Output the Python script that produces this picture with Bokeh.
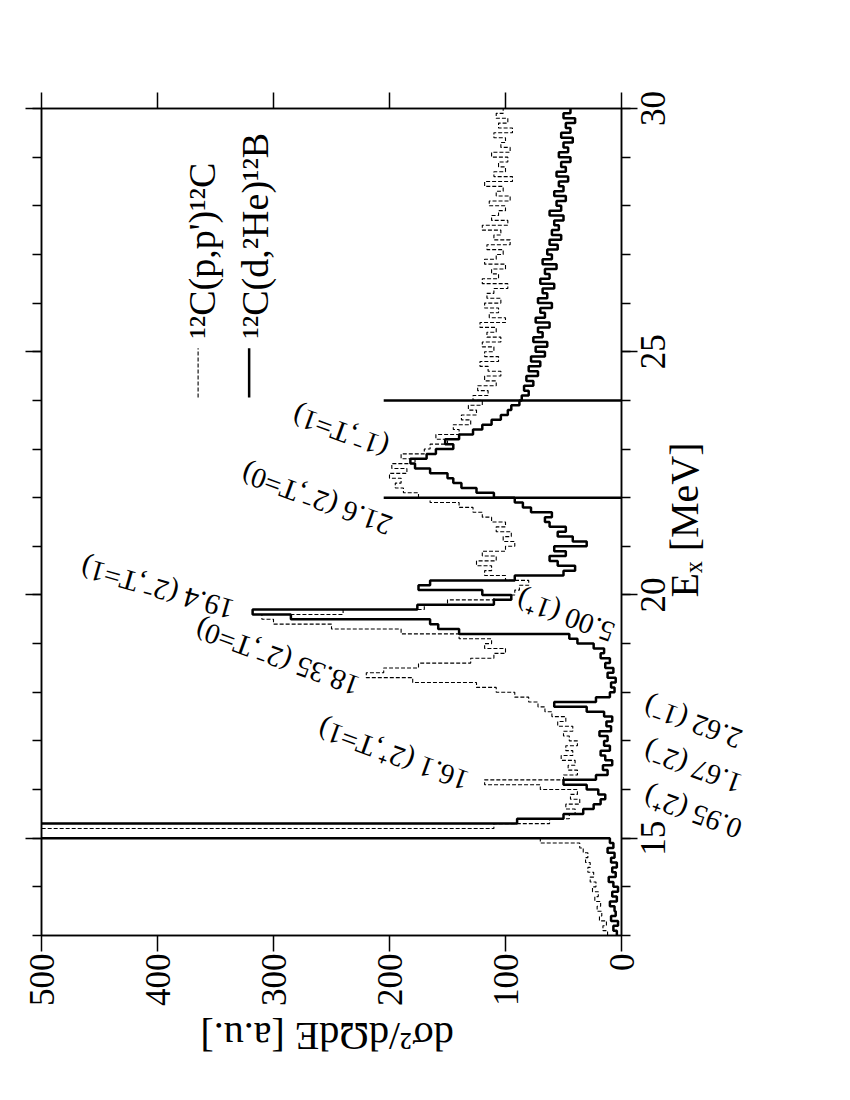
import math
import numpy as np
from bokeh.plotting import figure
from bokeh.models import (Range1d, LinearAxis, FixedTicker, Label,
                          CustomJSTickFormatter)
from bokeh.embed import file_html
from bokeh.resources import INLINE

# ---------------- data ----------------
ex_start = 13.0          # lower edge of first bin [MeV]
bin_width = 0.1          # MeV

# 12C(p,p')12C  (dashed)
pp_val = [
    12, 16, 13, 19, 17, 21, 18, 23, 20, 25,
    22, 27, 24, 29, 27, 31, 29, 33, 36, 70,
    900, 900, 110, 62, 45, 40, 48, 36, 44, 38,
    70, 118, 50, 38, 46, 40, 52, 42, 48, 38,
    45, 50, 42, 55, 48, 60, 66, 72, 80, 92,
    108, 125, 180, 220, 205, 175, 130, 110, 100, 118,
    112, 140, 190, 250, 300, 310, 240, 170, 150, 110,
    92, 88, 80, 100, 118, 112, 125, 108, 120, 100,
    92, 102, 95, 108, 100, 112, 120, 128, 140, 165,
    175, 188, 195, 190, 200, 185, 198, 178, 190, 170,
    165, 150, 160, 140, 145, 130, 138, 125, 132, 120,
    128, 115, 124, 108, 118, 104, 115, 122, 106, 118,
    110, 120, 104, 116, 108, 122, 100, 114, 106, 118,
    104, 116, 110, 98, 120, 106, 112, 100, 118, 108,
    102, 116, 96, 110, 104, 120, 98, 112, 106, 100,
    114, 96, 108, 102, 118, 94, 110, 100, 106, 98,
    112, 96, 104, 100, 110, 94, 106, 98, 108, 102,
]

# 12C(d,2He)12B  (solid)
dhe_val = [
    4, 7, 3, 9, 5, 6, 10, 4, 8, 3,
    7, 11, 5, 8, 4, 9, 6, 12, 7, 10,
    900, 900, 900, 90, 50, 33, 24, 18, 14, 20,
    30, 50, 22, 12, 16, 8, 14, 18, 10, 15,
    12, 19, 9, 13, 8, 15, 30, 58, 22, 10,
    6, 9, 5, 12, 7, 14, 10, 18, 15, 24,
    38, 45, 140, 158, 165, 285, 318, 176, 110, 95,
    120, 175, 165, 92, 50, 40, 55, 62, 48, 58,
    30, 42, 55, 48, 62, 66, 60, 78, 85, 92,
    110, 125, 138, 145, 150, 165, 178, 182, 168, 160,
    145, 152, 140, 128, 120, 112, 104, 98, 95, 88,
    86, 80, 84, 76, 82, 72, 80, 70, 78, 66,
    74, 64, 76, 68, 72, 62, 74, 66, 70, 60,
    72, 64, 68, 58, 70, 62, 66, 56, 68, 60,
    64, 55, 62, 52, 60, 54, 58, 50, 62, 52,
    56, 48, 58, 50, 54, 46, 56, 48, 52, 44,
    54, 46, 50, 42, 52, 44, 48, 40, 50, 44,
]

threshold_ex = [22.0, 24.0]
threshold_top = 205

value_ticks = [0, 100, 200, 300, 400, 500]
ex_major_ticks = [15, 20, 25, 30]
ex_minor_ticks = list(range(13, 31))

x_title = "dσ²/dΩdE [a.u.]"
y_title = "Eₓ [MeV]"
legend_labels = ["¹²C(p,p')¹²C", "¹²C(d,²He)¹²B"]

state_labels = ["16.1 (2⁺,T=1)", "18.35 (2⁻,T=0)", "19.4 (2⁻,T=1)",
                "21.6 (2⁻,T=0)", "(1⁻,T=1)", "5.00 (1⁺)"]
b12_labels = ["0.95 (2⁺)", "1.67 (2⁻)", "2.62 (1⁻)"]

# ---------------- helpers ----------------
def step_path(values):
    vals = np.asarray(values, dtype=float)
    lo = ex_start + bin_width * np.arange(len(vals))
    hi = lo + bin_width
    ys = np.column_stack([lo, hi]).ravel()
    xs = np.repeat(vals, 2)
    return xs, ys

FONT = "Liberation Serif"

p = figure(width=850, height=1090,
           x_range=Range1d(500, 0), y_range=Range1d(13, 30),
           min_border_left=41, min_border_right=229,
           min_border_top=108, min_border_bottom=155,
           x_axis_location=None, y_axis_location=None,
           output_backend="svg", toolbar_location=None)
p.xgrid.visible = False
p.ygrid.visible = False
p.outline_line_color = "black"
p.outline_line_width = 1.5
p.background_fill_color = "white"
p.border_fill_color = "white"

# spectra
xs, ys = step_path(pp_val)
p.line(xs, ys, line_color="black", line_width=1.1, line_dash="4 2")
xs, ys = step_path(dhe_val)
p.line(xs, ys, line_color="black", line_width=2.5)

# threshold lines
p.segment(x0=[0] * len(threshold_ex), x1=[threshold_top] * len(threshold_ex),
          y0=threshold_ex, y1=threshold_ex, line_color="black", line_width=2.5)

# ---------------- axes ----------------
def tick_axis(ticker, labels=True, size="35px"):
    ax = LinearAxis(ticker=ticker)
    ax.axis_line_color = "black"
    ax.axis_line_width = 1.5
    ax.major_tick_line_width = 1.5
    ax.minor_tick_line_width = 1.5
    ax.major_tick_in = 0
    ax.major_tick_out = 16
    ax.minor_tick_in = 0
    ax.minor_tick_out = 9
    ax.major_label_text_font = FONT
    ax.major_label_orientation = math.pi / 2
    if labels:
        ax.major_label_text_font_size = size
        ax.major_label_text_color = "black"
        ax.major_label_standoff = 2
    else:
        ax.major_label_text_font_size = "2px"
        ax.major_label_text_color = None
        ax.major_label_standoff = 0
    return ax

def text_axis(ticks, formatter, size, orientation, standoff):
    ax = LinearAxis(ticker=FixedTicker(ticks=ticks, minor_ticks=[]),
                    formatter=formatter)
    ax.axis_line_color = None
    ax.major_tick_line_color = None
    ax.minor_tick_line_color = None
    ax.major_tick_in = 0
    ax.major_tick_out = 0
    ax.minor_tick_in = 0
    ax.minor_tick_out = 0
    ax.major_label_text_font = FONT
    ax.major_label_text_font_size = size
    ax.major_label_text_color = "black"
    ax.major_label_orientation = orientation
    ax.major_label_standoff = standoff
    return ax

vt = FixedTicker(ticks=value_ticks, minor_ticks=[])
et = FixedTicker(ticks=ex_major_ticks, minor_ticks=ex_minor_ticks)

# bottom: ticks + value labels, then the (upside-down) title
p.add_layout(tick_axis(vt, True), "below")
p.add_layout(text_axis([363], CustomJSTickFormatter(args=dict(t=x_title), code="return t"),
                       "40px", math.pi, 27), "below")
# top / left: ticks only
p.add_layout(tick_axis(vt, False), "above")
p.add_layout(tick_axis(et, False), "left")
# right: ticks, labels centred on the ticks, title, 12B level names
p.add_layout(tick_axis(et, False), "right")
lab_shift = 0.36
p.add_layout(text_axis([t - lab_shift for t in ex_major_ticks],
                       CustomJSTickFormatter(args=dict(s=lab_shift),
                                             code="return (tick + s).toFixed(0)"),
                       "35px", math.pi / 2, 16), "right")
p.add_layout(text_axis([19.95], CustomJSTickFormatter(args=dict(t=y_title), code="return t"),
                       "40px", math.pi / 2, 4), "right")
b12_anchor_ex = [15.16, 16.09, 17.01]
p.add_layout(text_axis(b12_anchor_ex,
                       CustomJSTickFormatter(args=dict(labs=b12_labels),
                                             code="return labs[index]"),
                       "29px", math.radians(160), 8), "right")

# ---------------- legend (rotated) ----------------
p.segment(x0=[365], x1=[365], y0=[24.06], y1=[25.07],
          line_color="black", line_width=1.1, line_dash="4 2")
p.segment(x0=[321], x1=[321], y0=[24.06], y1=[25.07],
          line_color="black", line_width=2.5)
for txt, xv in zip(legend_labels, [362, 316]):
    p.add_layout(Label(x=xv, y=25.27, text=txt, angle=math.pi / 2,
                       text_font=FONT, text_font_size="38px",
                       text_align="left", text_baseline="middle",
                       text_color="black"))

# ---------------- state annotations ----------------
state_pos = [(133, 16.15), (227, 18.1), (335, 19.68), (199, 21.4),
             (202, 23.0), (7, 19.2)]
state_ang = [160, 160, 164, 160, 160, 160]
for txt, (xv, yv), a in zip(state_labels, state_pos, state_ang):
    p.add_layout(Label(x=xv, y=yv, text=txt, angle=math.radians(a),
                       text_font=FONT, text_font_size="29px",
                       text_align="left", text_baseline="middle",
                       text_color="black"))

open("out.html", "w").write(file_html(p, INLINE))
